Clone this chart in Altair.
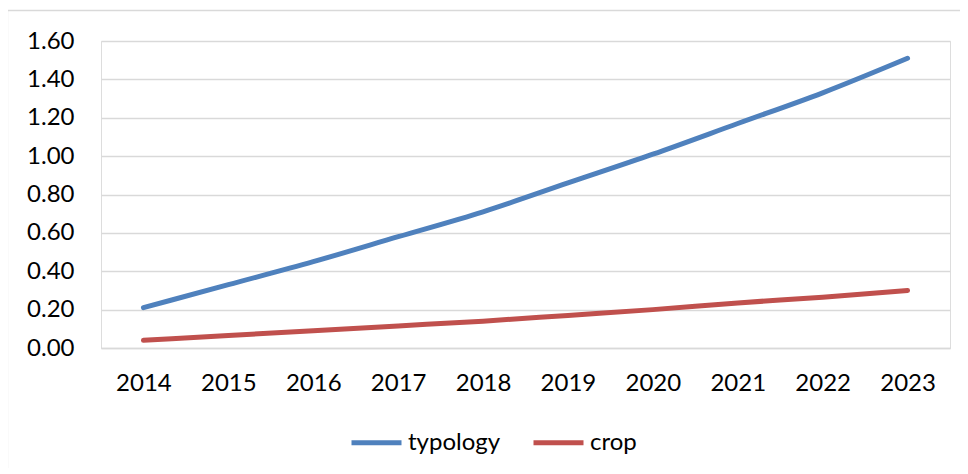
import altair as alt
import pandas as pd

years = ["2014", "2015", "2016", "2017", "2018", "2019", "2020", "2021", "2022", "2023"]
typology = [0.21, 0.33, 0.45, 0.58, 0.71, 0.86, 1.01, 1.17, 1.33, 1.51]
crop = [0.04, 0.065, 0.09, 0.115, 0.14, 0.17, 0.20, 0.235, 0.265, 0.30]
series_names = ["typology", "crop"]
series_colors = ["#4F81BD", "#C0504D"]

rows = []
for name, vals in zip(series_names, [typology, crop]):
    for y, v in zip(years, vals):
        rows.append({"year": y, "value": v, "series": name})
df = pd.DataFrame(rows)

FONT = "Lato"
W, H = 849, 307

lines = alt.Chart(df).mark_line(strokeWidth=5, strokeCap="round", interpolate="monotone").encode(
    x=alt.X("year:N", sort=years, scale=alt.Scale(type="point", padding=0.5),
            axis=alt.Axis(title=None, labelAngle=0, ticks=False, domain=True, domainColor="#d9d9d9",
                          domainWidth=1.3, labelPadding=23, labelFontSize=24, labelFont=FONT,
                          labelColor="#000000", grid=False)),
    y=alt.Y("value:Q", scale=alt.Scale(domain=[0, 1.6], nice=False),
            axis=alt.Axis(title=None, values=[0, 0.2, 0.4, 0.6, 0.8, 1.0, 1.2, 1.4, 1.6], format=".2f",
                          ticks=False, domain=False, grid=True, gridColor="#d9d9d9", gridWidth=1.3,
                          labelPadding=27, labelFontSize=24, labelFont=FONT, labelColor="#000000")),
    color=alt.Color("series:N", sort=series_names,
                    scale=alt.Scale(domain=series_names, range=series_colors),
                    legend=alt.Legend(title=None, orient="none", direction="horizontal",
                                      legendX=248, legendY=374, symbolType="stroke",
                                      symbolSize=2500, symbolStrokeWidth=5, labelFontSize=24,
                                      labelFont=FONT, labelColor="#000000", labelOffset=4,
                                      columnPadding=22, padding=0)),
)

border = alt.Chart(pd.DataFrame({"a": [0]})).mark_rect(
    filled=False, stroke="#d9d9d9", strokeWidth=1.3
).encode(
    x=alt.value(-93.5), x2=alt.value(W + 200), y=alt.value(-30.5), y2=alt.value(H + 300)
)

chart = alt.layer(border, lines).properties(
    width=W, height=H,
    autosize=alt.AutoSizeParams(type="none"),
    padding={"left": 93, "top": 33, "right": 10, "bottom": 120},
).configure_view(stroke=None).configure(background="white")

chart.save("out.html", embed_options={"renderer": "svg", "actions": False})
